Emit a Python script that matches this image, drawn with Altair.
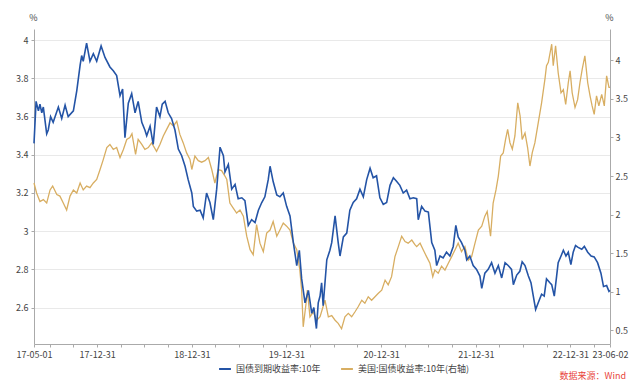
import altair as alt
import pandas as pd

# ---------------- data ----------------
cn_name = "国债到期收益率:10年"
us_name = "美国:国债收益率:10年(右轴)"
source_text = "数据来源：Wind"

cn_dates = ["2017-05-01","2017-05-09","2017-05-18","2017-05-24","2017-05-31","2017-06-06","2017-06-19","2017-06-25","2017-07-04","2017-07-14",
            "2017-08-03","2017-08-16","2017-08-29","2017-09-10","2017-09-30","2017-10-13","2017-10-26","2017-11-01","2017-11-07","2017-11-20",
            "2017-12-03","2017-12-16","2017-12-29",
            "2018-01-15","2018-01-30","2018-02-18","2018-03-03","2018-03-16","2018-03-29","2018-04-08","2018-04-17","2018-04-30","2018-05-13",
            "2018-05-26","2018-06-07","2018-06-21","2018-07-03","2018-07-10","2018-07-23","2018-08-04","2018-08-17","2018-08-30","2018-09-08",
            "2018-09-19","2018-10-01","2018-10-14","2018-10-27","2018-11-09","2018-11-22","2018-12-05","2018-12-17","2018-12-31",
            "2019-01-06","2019-01-19","2019-02-01","2019-02-13","2019-02-26","2019-03-11","2019-03-24","2019-04-06","2019-04-19","2019-05-02",
            "2019-05-08","2019-05-21","2019-06-03","2019-06-16","2019-06-28","2019-07-12","2019-07-24","2019-08-06","2019-08-19","2019-09-01",
            "2019-09-14","2019-09-27","2019-10-09","2019-10-22","2019-10-29","2019-11-10","2019-11-24","2019-12-06","2019-12-19",
            "2020-01-01","2020-01-14","2020-01-27","2020-02-09","2020-02-19","2020-02-28","2020-03-12","2020-03-25","2020-04-07","2020-04-15",
            "2020-04-25","2020-05-02","2020-05-09","2020-05-15","2020-05-21","2020-06-04","2020-06-16","2020-06-23","2020-07-06","2020-07-18",
            "2020-07-25","2020-08-07","2020-08-20","2020-09-01","2020-09-14","2020-09-27","2020-10-10","2020-10-23","2020-11-05","2020-11-18",
            "2020-11-30","2020-12-13","2020-12-26",
            "2021-01-08","2021-01-21","2021-02-03","2021-02-16","2021-03-01","2021-03-13","2021-03-26","2021-04-08","2021-04-21","2021-05-04",
            "2021-05-17","2021-05-23","2021-06-05","2021-06-18","2021-07-01","2021-07-14","2021-07-26","2021-08-02","2021-08-15","2021-08-27",
            "2021-09-09","2021-09-22","2021-10-05","2021-10-15","2021-10-24","2021-11-06","2021-11-19","2021-11-26","2021-12-08","2021-12-21",
            "2022-01-03","2022-01-16","2022-01-23","2022-02-04","2022-02-17","2022-03-02","2022-03-15","2022-03-28","2022-04-10","2022-04-23",
            "2022-05-05","2022-05-18","2022-05-25","2022-06-07","2022-06-19","2022-06-28","2022-07-09","2022-07-22","2022-08-01","2022-08-10",
            "2022-08-19","2022-08-29","2022-09-11","2022-09-21","2022-09-30","2022-10-13","2022-10-20","2022-10-30","2022-11-08","2022-11-14",
            "2022-11-25","2022-12-04","2022-12-14","2022-12-23",
            "2023-01-02","2023-01-11","2023-01-20","2023-01-30","2023-02-13","2023-02-23","2023-03-08","2023-03-21","2023-04-02","2023-04-15",
            "2023-04-28","2023-05-08","2023-05-20","2023-05-29","2023-06-02"]
cn_values = [3.46,3.68,3.63,3.665,3.62,3.65,3.51,3.53,3.60,3.57,
             3.65,3.59,3.66,3.60,3.63,3.735,3.87,3.92,3.89,3.985,
             3.89,3.93,3.89,
             3.97,3.91,3.86,3.84,3.815,3.71,3.745,3.49,3.67,3.72,
             3.62,3.68,3.57,3.53,3.50,3.55,3.455,3.65,3.60,3.665,
             3.68,3.62,3.59,3.53,3.43,3.395,3.34,3.27,3.20,
             3.13,3.105,3.11,3.07,3.20,3.15,3.06,3.22,3.44,3.395,
             3.31,3.35,3.22,3.245,3.17,3.175,3.16,3.03,3.06,3.045,
             3.11,3.15,3.18,3.27,3.34,3.26,3.19,3.18,3.20,
             3.13,3.08,2.94,2.82,2.90,2.75,2.625,2.69,2.57,2.60,
             2.49,2.625,2.66,2.73,2.61,2.85,2.90,2.94,3.08,2.94,
             2.87,2.97,2.99,3.11,3.15,3.17,3.22,3.18,3.27,3.33,
             3.28,3.29,3.175,
             3.14,3.15,3.24,3.28,3.26,3.24,3.20,3.215,3.17,3.175,
             3.17,3.06,3.13,3.105,3.10,2.94,2.90,2.82,2.87,2.86,
             2.89,2.87,2.92,3.03,2.97,2.94,2.90,2.85,2.87,2.82,
             2.80,2.765,2.70,2.78,2.80,2.835,2.78,2.82,2.755,2.835,
             2.82,2.80,2.72,2.77,2.79,2.84,2.82,2.765,2.73,2.66,
             2.59,2.625,2.67,2.66,2.75,2.73,2.72,2.66,2.765,2.835,
             2.87,2.90,2.87,2.89,
             2.825,2.89,2.925,2.915,2.905,2.92,2.89,2.87,2.865,2.835,
             2.78,2.71,2.715,2.685,2.69]

us_dates = ["2017-05-01","2017-05-11","2017-05-24","2017-06-06","2017-06-19","2017-07-02","2017-07-12","2017-07-28","2017-08-09","2017-08-22",
            "2017-09-04","2017-09-17","2017-09-30","2017-10-13","2017-10-26","2017-11-07","2017-11-20","2017-12-03","2017-12-16","2017-12-29",
            "2018-01-11","2018-01-23","2018-02-06","2018-02-18","2018-03-03","2018-03-16","2018-03-29","2018-04-11","2018-04-24","2018-05-06",
            "2018-05-14","2018-05-28","2018-06-07","2018-06-21","2018-07-03","2018-07-16","2018-07-29","2018-08-17","2018-08-30","2018-09-12",
            "2018-09-25","2018-10-08","2018-10-21","2018-11-03","2018-11-15","2018-11-28","2018-12-11","2018-12-24","2018-12-31",
            "2019-01-12","2019-01-25","2019-02-07","2019-02-20","2019-03-05","2019-03-18","2019-03-30","2019-04-12","2019-04-25","2019-05-08",
            "2019-05-15","2019-05-27","2019-06-09","2019-06-22","2019-07-05","2019-07-18","2019-07-31","2019-08-13","2019-08-25","2019-09-07",
            "2019-09-20","2019-10-03","2019-10-16","2019-10-29","2019-11-10","2019-11-24","2019-12-06","2019-12-19",
            "2020-01-01","2020-01-14","2020-01-27","2020-02-09","2020-02-21","2020-02-28","2020-03-05","2020-03-16","2020-03-21","2020-03-31",
            "2020-04-13","2020-04-26","2020-05-09","2020-05-28","2020-06-10","2020-06-23","2020-07-06","2020-07-18","2020-07-31","2020-08-13",
            "2020-08-26","2020-09-08","2020-09-21","2020-10-03","2020-10-17","2020-10-29","2020-11-11","2020-11-24","2020-12-07","2020-12-20",
            "2021-01-02","2021-01-15","2021-01-27","2021-02-09","2021-02-22","2021-03-07","2021-03-20","2021-04-02","2021-04-14","2021-04-28",
            "2021-05-10","2021-05-17","2021-05-30","2021-06-11","2021-06-24","2021-07-07","2021-07-18","2021-07-26","2021-08-08","2021-08-21",
            "2021-09-03","2021-09-16","2021-09-29","2021-10-12","2021-10-24","2021-11-06","2021-11-19","2021-12-02","2021-12-15","2021-12-28",
            "2022-01-10","2022-01-23","2022-02-04","2022-02-13","2022-02-26","2022-03-08","2022-03-19","2022-03-28","2022-04-06","2022-04-16",
            "2022-04-25","2022-05-03","2022-05-12","2022-05-21","2022-05-31","2022-06-11","2022-06-20","2022-06-28","2022-07-09","2022-07-19",
            "2022-07-28","2022-08-06","2022-08-16","2022-08-29","2022-09-11","2022-09-24","2022-09-30","2022-10-07","2022-10-20","2022-10-26",
            "2022-11-04","2022-11-14","2022-11-25","2022-12-04","2022-12-13","2022-12-23","2022-12-30",
            "2023-01-07","2023-01-18","2023-01-28","2023-02-06","2023-02-15","2023-02-25","2023-03-08","2023-03-17","2023-03-25","2023-04-02",
            "2023-04-11","2023-04-20","2023-05-01","2023-05-11","2023-05-20","2023-05-29","2023-06-02"]
us_values = [2.41,2.28,2.17,2.195,2.15,2.32,2.37,2.26,2.24,2.15,
             2.06,2.24,2.32,2.28,2.41,2.32,2.37,2.35,2.41,2.455,
             2.585,2.71,2.87,2.91,2.845,2.87,2.74,2.845,2.975,3.00,
             3.05,2.78,2.975,2.91,2.845,2.87,2.93,2.82,2.91,3.02,
             3.105,3.19,3.15,3.21,3.04,2.93,2.80,2.715,2.585,
             2.76,2.70,2.68,2.70,2.74,2.585,2.41,2.585,2.57,2.50,
             2.455,2.15,2.085,2.02,2.06,1.98,1.72,1.545,1.48,1.87,
             1.63,1.52,1.76,1.80,1.91,1.72,1.80,1.89,
             1.85,1.80,1.63,1.545,1.28,1.02,0.545,0.85,1.02,0.675,
             0.74,0.63,0.675,0.89,0.675,0.69,0.63,0.59,0.52,0.675,
             0.72,0.675,0.74,0.805,0.89,0.85,0.935,0.89,0.935,0.98,
             1.02,1.15,1.09,1.195,1.455,1.585,1.72,1.65,1.63,1.67,
             1.61,1.585,1.63,1.545,1.455,1.37,1.195,1.28,1.24,1.33,
             1.28,1.37,1.455,1.545,1.63,1.52,1.585,1.41,1.455,1.63,
             1.80,1.85,1.98,2.04,1.72,2.15,2.32,2.50,2.76,2.80,
             2.975,3.105,2.93,2.85,3.02,3.45,3.28,2.975,3.06,2.87,
             2.63,2.805,2.93,3.19,3.45,3.76,3.93,3.975,4.21,3.93,
             4.19,3.84,3.58,3.62,3.43,3.71,3.865,
             3.58,3.39,3.49,3.71,3.89,4.06,3.71,3.54,3.41,3.30,
             3.54,3.41,3.56,3.41,3.80,3.65,3.65]

x_label_list = ["17-05-01", "17-12-31", "18-12-31", "19-12-31", "20-12-31", "21-12-31", "22-12-31", "23-06-02"]
left_ticks = [2.6, 2.8, 3.0, 3.2, 3.4, 3.6, 3.8, 4.0]
right_ticks = [0.5, 1.0, 1.5, 2.0, 2.5, 3.0, 3.5, 4.0]

# ---------------- build ----------------
BLUE = "#2454a6"
GOLD = "#d8ae62"
FONT = "Noto Sans CJK SC"

def ms(d):
    return int(pd.Timestamp(d, tz="UTC").value // 10**6)

start, end = "2017-05-01", "2023-06-02"
tick_dates = [start]
for y in range(2017, 2024):
    for md in ["03-31", "06-30", "09-30", "12-31"]:
        d = f"{y}-{md}"
        if start < d < end:
            tick_dates.append(d)
tick_dates.append(end)
tick_ms = [ms(d) for d in tick_dates]

cn_df = pd.DataFrame({"date": cn_dates, "value": cn_values, "series": cn_name})
us_df = pd.DataFrame({"date": us_dates, "value": us_values, "series": us_name})

label_js = "[" + ",".join(f"'{s}'" for s in x_label_list) + "]"
x_enc = alt.X(
    "date:T",
    scale=alt.Scale(type="utc", domain=[ms(start), ms(end)], nice=False),
    axis=alt.Axis(
        values=tick_ms,
        labelExpr=f"indexof({label_js}, utcFormat(datum.value, '%y-%m-%d')) >= 0 ? utcFormat(datum.value, '%y-%m-%d') : ''",
        labelOverlap=False,
        labelFlush=False,
        grid=False,
        tickSize=3,
        tickColor="#aaaaaa",
        domainColor="#aaaaaa",
        labelColor="#444444",
        labelFontSize=9,
        labelFont=FONT,
        labelPadding=3,
        title=None,
    ),
)

color_enc = alt.Color(
    "series:N",
    scale=alt.Scale(domain=[cn_name, us_name], range=[BLUE, GOLD]),
    legend=alt.Legend(
        title=None,
        orient="none",
        legendX=184,
        legendY=333,
        direction="horizontal",
        symbolType="stroke",
        symbolSize=140,
        symbolStrokeWidth=2,
        labelFont=FONT,
        labelFontSize=9,
        labelColor="#444444",
        columnPadding=16,
        symbolOffset=0,
    ),
)

cn_line = alt.Chart(cn_df).mark_line(strokeWidth=1.6, interpolate="linear").encode(
    x=x_enc,
    y=alt.Y(
        "value:Q",
        scale=alt.Scale(domain=[2.409, 4.059], nice=False, zero=False),
        axis=alt.Axis(
            values=left_ticks,
            format=".2~f",
            orient="left",
            grid=True,
            gridColor="#e9e9e9",
            tickSize=3,
            tickColor="#aaaaaa",
            domainColor="#aaaaaa",
            labelColor="#444444",
            labelFontSize=9,
            labelFont=FONT,
            labelPadding=3,
            title="%",
            titleAngle=0,
            titleX=-1,
            titleY=-7,
            titleAlign="center",
            titleBaseline="bottom",
            titleFontWeight="normal",
            titleFontSize=9,
            titleColor="#444444",
            titleFont=FONT,
        ),
    ),
    color=color_enc,
)

us_line = alt.Chart(us_df).mark_line(strokeWidth=1.3, interpolate="linear").encode(
    x=x_enc,
    y=alt.Y(
        "value:Q",
        scale=alt.Scale(domain=[0.322, 4.407], nice=False, zero=False),
        axis=alt.Axis(
            values=right_ticks,
            format=".2~f",
            orient="right",
            grid=False,
            tickSize=3,
            tickColor="#aaaaaa",
            domainColor="#aaaaaa",
            labelColor="#444444",
            labelFontSize=9,
            labelFont=FONT,
            labelPadding=2,
            title="%",
            titleAngle=0,
            titleX=-1,
            titleY=-7,
            titleAlign="center",
            titleBaseline="bottom",
            titleFontWeight="normal",
            titleFontSize=9,
            titleColor="#444444",
            titleFont=FONT,
        ),
    ),
    color=color_enc,
)

src = alt.Chart(pd.DataFrame({"t": [source_text]})).mark_text(
    align="right", baseline="middle", font=FONT, fontSize=9, color="#e8453c"
).encode(text="t:N", x=alt.value(592), y=alt.value(347))

chart = (
    alt.layer(us_line, cn_line, src)
    .resolve_scale(y="independent")
    .properties(
        width=576,
        height=315,
        autosize=alt.AutoSizeParams(type="none"),
        padding={"left": 26, "top": 21, "right": 25, "bottom": 39},
        background="white",
    )
    .configure_view(stroke=None)
)

chart.save("out.html", embed_options={"renderer": "svg", "actions": False})
